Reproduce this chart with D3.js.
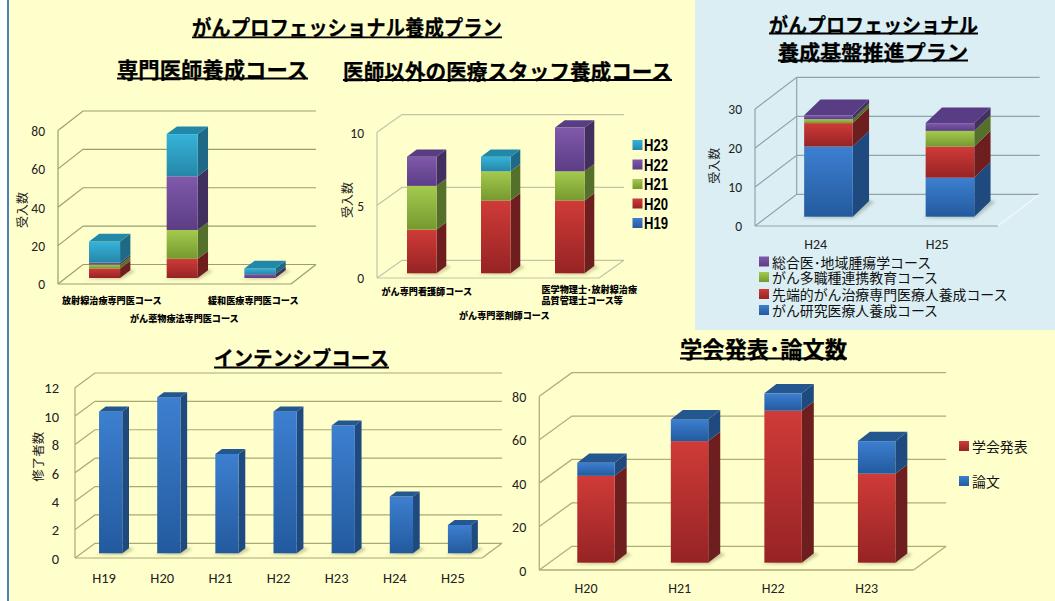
<!DOCTYPE html>
<html lang="ja">
<head>
<meta charset="UTF-8">
<title>がんプロフェッショナル養成プラン</title>
<script src="https://d3js.org/d3.v7.min.js"></script>
<style>
    html, body { margin: 0; padding: 0; background: #fff; overflow: hidden; }
    svg { display: block; }
    text { font-family: "Noto Sans CJK JP", sans-serif; fill: #111; }
    .title { font-weight: 700; fill: #000; stroke: #000; stroke-width: 0.25px; }
    .tick text, .num { font-family: Carlito, Lato, sans-serif; fill: #222; }
    .ytitle { fill: #222; }
    .small { font-weight: 900; fill: #000; }
    .legend-h { font-family: "Liberation Sans", sans-serif; font-weight: 700; fill: #000; }
</style>
</head>
<body>
<div id="container"></div>
<script>
// ---- data ----
const yearsA = ['H19', 'H20', 'H21', 'H22', 'H23'];

// 専門医師養成コース
const doctorCourses = ['放射線治療専門医コース', 'がん薬物療法専門医コース', '緩和医療専門医コース'];
const doctorH19 = [0, 0, 0];
const doctorH20 = [5, 10, 0];
const doctorH21 = [2, 15, 0];
const doctorH22 = [1, 28, 2];
const doctorH23 = [11, 22, 3];

// 医師以外の医療スタッフ養成コース
const staffCourses = ['がん専門看護師コース', 'がん専門薬剤師コース', '医学物理士･放射線治療|品質管理士コース等'];
const staffH19 = [0, 0, 0];
const staffH20 = [3, 5, 5];
const staffH21 = [3, 2, 2];
const staffH22 = [2, 0, 3];
const staffH23 = [0, 1, 0];

// 養成基盤推進プラン
const baseYears = ['H24', 'H25'];
const baseSeries = ['がん研究医療人養成コース', '先端的がん治療専門医療人養成コース', 'がん多職種連携教育コース', '総合医･地域腫瘍学コース'];
const baseResearch = [18, 10];
const baseAdvanced = [6, 8];
const baseTeam = [1, 4];
const baseGeneral = [1, 2];

// インテンシブコース
const intensiveYears = ['H19', 'H20', 'H21', 'H22', 'H23', 'H24', 'H25'];
const intensiveDone = [10, 11, 7, 10, 9, 4, 2];

// 学会発表・論文数
const paperYears = ['H20', 'H21', 'H22', 'H23'];
const paperSeries = ['学会発表', '論文'];
const paperTalks = [40, 56, 70, 41];
const paperArticles = [6, 10, 8, 15];

// ---- colours ----
const colors = {
    blue:   { hi: '#3d7fd0', lo: '#235a9e', side: '#1f4a80', top: '#24568f' },
    red:    { hi: '#cf3b38', lo: '#962324', side: '#6f1e20', top: '#8e2a2a' },
    green:  { hi: '#a4ca4e', lo: '#76992f', side: '#55702a', top: '#6b8a2e' },
    purple: { hi: '#8059ab', lo: '#5b3d85', side: '#41305f', top: '#583c84' },
    teal:   { hi: '#36b3da', lo: '#2587a8', side: '#1e6a86', top: '#2388a8' }
};

const W = 1055, H = 601;
const svg = d3.select('#container').append('svg').attr('width', W).attr('height', H);
const defs = svg.append('defs');

// one vertical gradient per colour
Object.keys(colors).forEach(function(k) {
    const g = defs.append('linearGradient').attr('id', 'grad-' + k)
        .attr('x1', 0).attr('y1', 0).attr('x2', 0).attr('y2', 1);
    g.append('stop').attr('offset', '0%').attr('stop-color', colors[k].hi);
    g.append('stop').attr('offset', '100%').attr('stop-color', colors[k].lo);
});
defs.append('filter').attr('id', 'soft').attr('x', '-30%').attr('y', '-60%').attr('width', '160%').attr('height', '220%')
    .append('feGaussianBlur').attr('stdDeviation', 1.4);

// background panels
svg.append('rect').attr('x', 9).attr('y', 0).attr('width', W - 9).attr('height', H).attr('fill', '#ffffcc');
svg.append('rect').attr('x', 7).attr('y', 0).attr('width', 2).attr('height', H).attr('fill', '#4f7fb8');
svg.append('rect').attr('x', 695).attr('y', 0).attr('width', W - 695).attr('height', 330).attr('fill', '#daeef3');

function poly(g, pts, fill) {
    return g.append('polygon').attr('points', pts.map(p => p.join(',')).join(' ')).attr('fill', fill);
}

// a pseudo 3D column chart. c holds only layout, values come in through series
function chart3d(c) {
    const g = svg.append('g');
    const x = d3.scaleBand().domain(c.categories).range([c.left, c.right]).paddingInner(0.6).paddingOuter(0.3);
    const y = d3.scaleLinear().domain([0, c.max]).range([c.bottom, c.top]);
    const ticks = d3.range(0, c.max + 1, c.step);

    // walls and floor
    const wall = g.append('g').attr('fill', 'none').attr('stroke', c.grid).attr('stroke-width', c.gridWidth || 1.2);
    ticks.forEach(function(t) {
        wall.append('polyline').attr('points', [
            [c.left, y(t)], [c.left + c.wallX, y(t) - c.wallY], [c.right + c.wallX, y(t) - c.wallY]
        ].map(p => p.join(',')).join(' '));
    });
    wall.append('line').attr('x1', c.left).attr('x2', c.left).attr('y1', y(0)).attr('y2', y(c.max));
    if (c.backLine) {
        wall.append('line').attr('x1', c.left + c.wallX).attr('x2', c.left + c.wallX)
            .attr('y1', y(0) - c.wallY).attr('y2', y(c.max) - c.wallY);
    }
    wall.append('line').attr('x1', c.left).attr('x2', c.right).attr('y1', y(0)).attr('y2', y(0));
    wall.append('line').attr('x1', c.right).attr('x2', c.right + c.wallX)
        .attr('y1', y(0)).attr('y2', y(0) - c.wallY).attr('stroke', c.floorEdge || c.grid);

    // bars through d3.stack
    const rows = c.categories.map(function(cat, i) {
        const row = { cat: cat };
        c.series.forEach(function(s) { row[s.name] = s.values[i]; });
        return row;
    });
    const stacked = d3.stack().keys(c.series.map(s => s.name))(rows);
    const bw = x.bandwidth();

    // shadow on the floor first
    c.categories.forEach(function(cat) {
        const bx = x(cat) + c.shiftX, by = y(0) - c.shiftY;
        poly(g, [[bx - 4, by + 1.5], [bx + bw + 1, by + 1.5], [bx + bw + c.depthX + 5, by - c.depthY + 1], [bx + bw + c.depthX, by - c.depthY - 1]], c.shadow)
            .attr('filter', 'url(#soft)');
    });

    c.categories.forEach(function(cat, i) {
        const bx = x(cat) + c.shiftX;
        let lastTop = null, lastColor = null;
        stacked.forEach(function(layer, si) {
            const d = layer[i];
            if (d[1] - d[0] <= 0) return;
            const col = colors[c.series[si].color];
            const y0 = y(d[0]) - c.shiftY, y1 = y(d[1]) - c.shiftY;
            poly(g, [[bx + bw, y0], [bx + bw + c.depthX, y0 - c.depthY], [bx + bw + c.depthX, y1 - c.depthY], [bx + bw, y1]], col.side);
            g.append('rect').attr('x', bx).attr('y', y1).attr('width', bw).attr('height', y0 - y1)
                .attr('fill', 'url(#grad-' + c.series[si].color + ')');
            lastTop = y1; lastColor = col;
        });
        poly(g, [[bx, lastTop], [bx + bw, lastTop], [bx + bw + c.depthX, lastTop - c.depthY], [bx + c.depthX, lastTop - c.depthY]], lastColor.top);
    });

    // value axis, the lines are the wall above
    const axis = g.append('g').attr('transform', 'translate(' + (c.left - c.tickPad) + ',0)')
        .call(d3.axisLeft(y).tickValues(ticks).tickSize(0).tickPadding(0));
    axis.select('.domain').remove();
    axis.selectAll('text').attr('dy', '0.36em').style('font-size', c.tickSize + 'px');

    // category labels
    if (c.catSize) {
        const xAxis = g.append('g').attr('transform', 'translate(0,' + c.catY + ')')
            .call(d3.axisBottom(x).tickSize(0).tickPadding(0));
        xAxis.select('.domain').remove();
        xAxis.selectAll('text').attr('dy', '0.36em').attr('y', 0).style('font-size', c.catSize + 'px');
    }
    return { x: x, y: y, g: g };
}

// the original font has narrow kana, so squeeze to the measured width.
// underline is drawn by hand, text-decoration lands wrong with central baseline
function title(txt, cx, cy, size, width, underY) {
    svg.append('text').attr('class', 'title').attr('x', cx).attr('y', cy)
        .attr('text-anchor', 'middle').attr('dominant-baseline', 'central')
        .attr('textLength', width).attr('lengthAdjust', 'spacingAndGlyphs')
        .style('font-size', size + 'px').text(txt);
    svg.append('line').attr('x1', cx - width / 2).attr('x2', cx + width / 2)
        .attr('y1', underY).attr('y2', underY).attr('stroke', '#000').attr('stroke-width', 1.8);
}
function yTitle(txt, cx, cy, size) {
    svg.append('text').attr('class', 'ytitle')
        .attr('transform', 'translate(' + cx + ',' + cy + ') rotate(-90)')
        .attr('text-anchor', 'middle').attr('dominant-baseline', 'central')
        .style('font-size', size + 'px').text(txt);
}
// tiny bold course names are placed by hand in the original
function smallLabel(txt, lx, ly) {
    svg.append('text').attr('class', 'small').attr('x', lx).attr('y', ly)
        .attr('dominant-baseline', 'central').style('font-size', '9.1px').text(txt);
}
function swatch(sx, sy, color) {
    svg.append('rect').attr('x', sx).attr('y', sy - 5).attr('width', 10).attr('height', 10)
        .attr('fill', 'url(#grad-' + color + ')');
}

// ---- titles ----
title('がんプロフェッショナル養成プラン', 347, 26, 21, 310, 37.3);
title('専門医師養成コース', 212.5, 68, 21.3, 191, 78.5);
title('医師以外の医療スタッフ養成コース', 507.5, 70, 21, 329, 80);
title('がんプロフェッショナル', 873.5, 24, 20.5, 209, 33.5);
title('養成基盤推進プラン', 873, 51, 21, 190, 60.5);
title('インテンシブコース', 301.5, 357, 20.5, 175, 367.5);
title('学会発表･論文数', 763.5, 348, 22.2, 167, 358.5);

// ---- 専門医師養成コース ----
chart3d({
    categories: doctorCourses,
    series: [
        { name: 'H19', values: doctorH19, color: 'blue' },
        { name: 'H20', values: doctorH20, color: 'red' },
        { name: 'H21', values: doctorH21, color: 'green' },
        { name: 'H22', values: doctorH22, color: 'purple' },
        { name: 'H23', values: doctorH23, color: 'teal' }
    ],
    left: 58, right: 291, top: 130.5, bottom: 284, max: 80, step: 20,
    wallX: 25, wallY: 19.5, shiftX: 7.7, shiftY: 6, depthX: 10.3, depthY: 7.7,
    grid: '#9c9d70', shadow: 'rgba(120,120,70,0.35)', tickPad: 13, tickSize: 13.5
});
yTitle('受入数', 21, 210, 12);
smallLabel(doctorCourses[0], 62, 300);
smallLabel(doctorCourses[1], 130, 318);
smallLabel(doctorCourses[2], 208, 300);

// ---- 医師以外の医療スタッフ養成コース ----
chart3d({
    categories: staffCourses,
    series: [
        { name: 'H19', values: staffH19, color: 'blue' },
        { name: 'H20', values: staffH20, color: 'red' },
        { name: 'H21', values: staffH21, color: 'green' },
        { name: 'H22', values: staffH22, color: 'purple' },
        { name: 'H23', values: staffH23, color: 'teal' }
    ],
    left: 377, right: 599, top: 132.3, bottom: 278, max: 10, step: 5,
    wallX: 25, wallY: 17.7, shiftX: 7.8, shiftY: 4.7, depthX: 9.7, depthY: 7.3,
    grid: '#c3c3a8', shadow: 'rgba(120,120,70,0.35)', tickPad: 13, tickSize: 13.5
});
yTitle('受入数', 346, 200, 12);
smallLabel(staffCourses[0], 381.5, 291);
smallLabel(staffCourses[1], 459, 315);
staffCourses[2].split('|').forEach(function(part, i) {
    smallLabel(part, 541.5, 288.7 + i * 11.5);
});

// legend H19..H23, top one is the last series
const legendA = [['H23', 'teal'], ['H22', 'purple'], ['H21', 'green'], ['H20', 'red'], ['H19', 'blue']];
yearsA.slice().reverse().forEach(function(yr, i) {
    const ly = 145 + i * 19.5;
    swatch(632.5, ly, legendA[i][1]);
    svg.append('text').attr('class', 'legend-h').attr('x', 644).attr('y', ly)
        .attr('dominant-baseline', 'central').attr('textLength', 24).attr('lengthAdjust', 'spacingAndGlyphs')
        .style('font-size', '16.5px').text(yr);
});

// ---- 養成基盤推進プラン ----
chart3d({
    categories: baseYears,
    series: [
        { name: baseSeries[0], values: baseResearch, color: 'blue' },
        { name: baseSeries[1], values: baseAdvanced, color: 'red' },
        { name: baseSeries[2], values: baseTeam, color: 'green' },
        { name: baseSeries[3], values: baseGeneral, color: 'purple' }
    ],
    left: 755, right: 998, top: 109, bottom: 226, max: 30, step: 10,
    wallX: 41.7, wallY: 31.7, shiftX: 12.7, shiftY: 9.3, depthX: 16.3, depthY: 15.7,
    grid: '#8fa3ab', floorEdge: '#f4f9fb', backLine: true, shadow: 'rgba(90,110,90,0.35)',
    tickPad: 13, tickSize: 13.5, catSize: 14, catY: 243.7
});
yTitle('受入数', 713, 165.7, 12);
const baseLegendColor = ['blue', 'red', 'green', 'purple'];
const baseLegendY = [310, 294, 277, 261.5];
baseSeries.forEach(function(name, i) {
    swatch(759, baseLegendY[i], baseLegendColor[i]);
    svg.append('text').attr('x', 772).attr('y', baseLegendY[i])
        .attr('dominant-baseline', 'central').style('font-size', '13.9px').text(name);
});

// ---- インテンシブコース ----
chart3d({
    categories: intensiveYears,
    series: [{ name: '修了者数', values: intensiveDone, color: 'blue' }],
    left: 75, right: 482, top: 387.7, bottom: 558, max: 12, step: 2,
    wallX: 20, wallY: 14.7, shiftX: 6.6, shiftY: 4.7, depthX: 6.7, depthY: 5,
    grid: '#a9a974', shadow: 'rgba(120,120,70,0.4)', tickPad: 16, tickSize: 14.5, catSize: 14.5, catY: 578
});
yTitle('修了者数', 37, 456.7, 12.5);

// ---- 学会発表・論文数 ----
chart3d({
    categories: paperYears,
    series: [
        { name: paperSeries[0], values: paperTalks, color: 'red' },
        { name: paperSeries[1], values: paperArticles, color: 'blue' }
    ],
    left: 539.3, right: 913.5, top: 396.3, bottom: 570, max: 80, step: 20,
    wallX: 32.6, wallY: 23.7, shiftX: 9.9, shiftY: 7.3, depthX: 12, depthY: 9.3,
    grid: '#b0ae74', gridWidth: 1.3, shadow: 'rgba(120,120,70,0.4)', tickPad: 13, tickSize: 14, catSize: 14, catY: 587.7
});
const paperLegendColor = ['red', 'blue'];
const paperLegendY = [446, 481];
paperSeries.forEach(function(name, i) {
    swatch(959, paperLegendY[i], paperLegendColor[i]);
    svg.append('text').attr('x', 972).attr('y', paperLegendY[i])
        .attr('dominant-baseline', 'central').style('font-size', '13.9px').text(name);
});
</script>
</body>
</html>
